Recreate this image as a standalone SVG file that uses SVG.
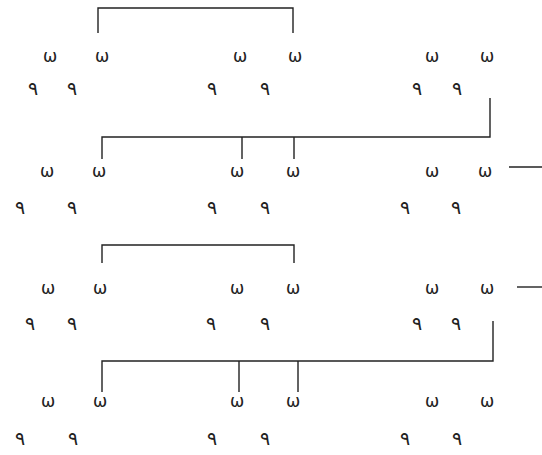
<svg xmlns="http://www.w3.org/2000/svg" width="542" height="455" viewBox="0 0 542 455">
<style>
.a{font-family:"DejaVu Sans","Noto Sans",sans-serif;font-size:17px;fill:#222;text-anchor:middle}
.b{font-family:"DejaVu Sans","Noto Sans",sans-serif;font-size:19px;fill:#222;text-anchor:middle}
.c{fill:none;stroke:#222;stroke-width:1.4}
</style>
<rect width="542" height="455" fill="#fff"/>
<g id="connectors">
<path class="c" d="M98,33V8H293V33"/>
<path class="c" d="M490,98V137H102V159M242,137V159M294,137V159"/>
<path class="c" d="M509,167H542"/>
<path class="c" d="M102,263V245H294V263"/>
<path class="c" d="M517,287H542"/>
<path class="c" d="M493,321V361H102V392M239,361V392M298,361V392"/>
</g>
<g id="row1">
<text class="a" x="50" y="62">ω</text><text class="a" x="102" y="62">ω</text><text class="a" x="240" y="62">ω</text><text class="a" x="295" y="62">ω</text><text class="a" x="432" y="62">ω</text><text class="a" x="487" y="62">ω</text>
<text class="b" x="33" y="95">٩</text><text class="b" x="72" y="95">٩</text><text class="b" x="212" y="95">٩</text><text class="b" x="265" y="95">٩</text><text class="b" x="417" y="95">٩</text><text class="b" x="457" y="95">٩</text>
</g>
<g id="row2">
<text class="a" x="47" y="177">ω</text><text class="a" x="99" y="177">ω</text><text class="a" x="237" y="177">ω</text><text class="a" x="293" y="177">ω</text><text class="a" x="432" y="177">ω</text><text class="a" x="485" y="177">ω</text>
<text class="b" x="20" y="214">٩</text><text class="b" x="72" y="214">٩</text><text class="b" x="212" y="214">٩</text><text class="b" x="265" y="214">٩</text><text class="b" x="405" y="214">٩</text><text class="b" x="456" y="214">٩</text>
</g>
<g id="row3">
<text class="a" x="48" y="294">ω</text><text class="a" x="100" y="294">ω</text><text class="a" x="237" y="294">ω</text><text class="a" x="293" y="294">ω</text><text class="a" x="432" y="294">ω</text><text class="a" x="487" y="294">ω</text>
<text class="b" x="30" y="330">٩</text><text class="b" x="72" y="330">٩</text><text class="b" x="211" y="330">٩</text><text class="b" x="265" y="330">٩</text><text class="b" x="417" y="330">٩</text><text class="b" x="456" y="330">٩</text>
</g>
<g id="row4">
<text class="a" x="48" y="407">ω</text><text class="a" x="100" y="407">ω</text><text class="a" x="237" y="407">ω</text><text class="a" x="293" y="407">ω</text><text class="a" x="432" y="407">ω</text><text class="a" x="487" y="407">ω</text>
<text class="b" x="20" y="445">٩</text><text class="b" x="73" y="445">٩</text><text class="b" x="212" y="445">٩</text><text class="b" x="265" y="445">٩</text><text class="b" x="405" y="445">٩</text><text class="b" x="457" y="445">٩</text>
</g>
</svg>
